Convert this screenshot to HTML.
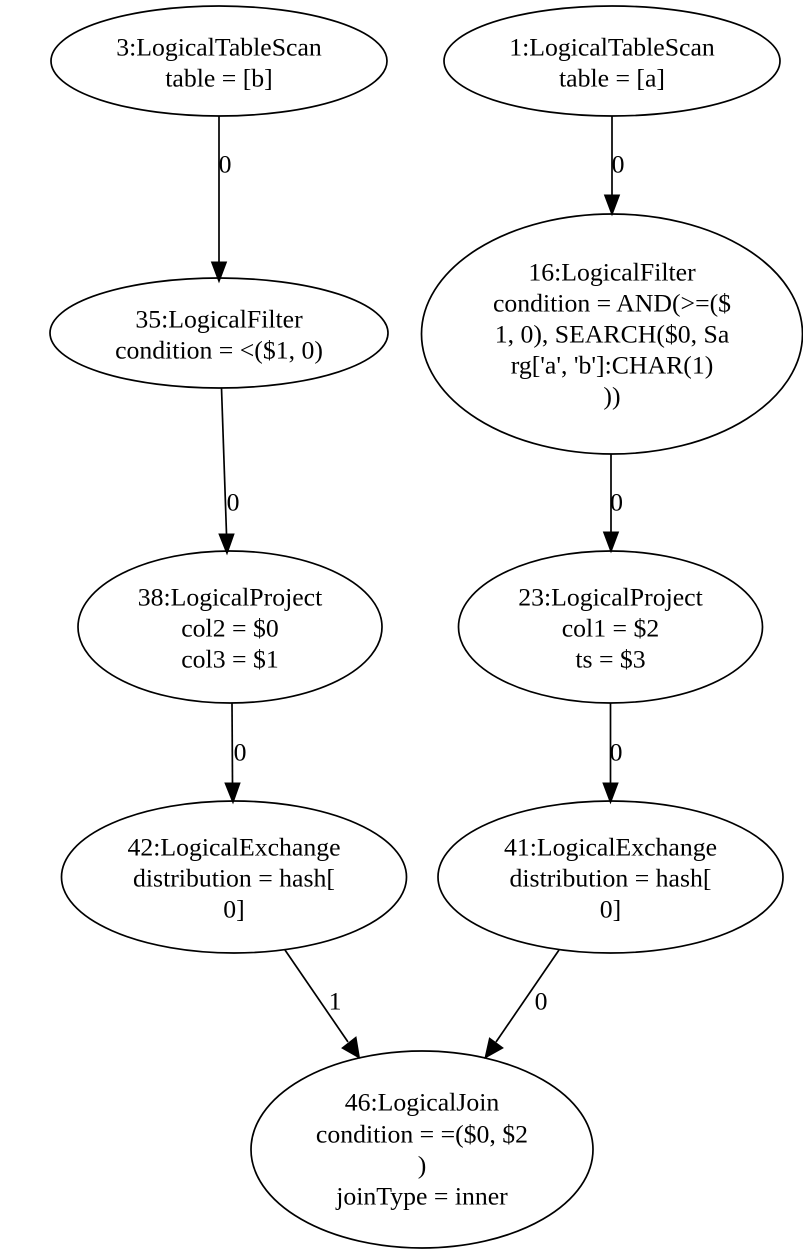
<!DOCTYPE html>
<html>
<head>
<meta charset="utf-8">
<style>
html,body{margin:0;padding:0;background:#fff;}
svg{display:block;}
text{font-family:"Liberation Serif",serif;font-size:25.75px;fill:#000;text-anchor:middle;transform:translateY(0.6px);}
ellipse{fill:none;stroke:#000;stroke-width:1.7;}
line{stroke:#000;stroke-width:1.7;}
polygon{fill:#000;stroke:#000;stroke-width:1;}
</style>
</head>
<body>
<svg width="803" height="1253" viewBox="0 0 803 1253" xmlns="http://www.w3.org/2000/svg">
<ellipse cx="219" cy="61" rx="168" ry="55"/>
<text x="219" y="55">3:LogicalTableScan</text>
<text x="219" y="86">table = [b]</text>

<ellipse cx="612" cy="61" rx="168" ry="55"/>
<text x="612" y="55">1:LogicalTableScan</text>
<text x="612" y="86">table = [a]</text>

<ellipse cx="219" cy="333" rx="169" ry="55"/>
<text x="219" y="327">35:LogicalFilter</text>
<text x="219" y="358">condition = &lt;($1, 0)</text>

<ellipse cx="612" cy="334" rx="190.500" ry="120"/>
<text x="612" y="280">16:LogicalFilter</text>
<text x="612" y="311">condition = AND(&gt;=($</text>
<text x="612" y="342">1, 0), SEARCH($0, Sa</text>
<text x="612" y="373">rg['a', 'b']:CHAR(1)</text>
<text x="612" y="404">))</text>

<ellipse cx="230" cy="627" rx="152" ry="76"/>
<text x="230" y="605">38:LogicalProject</text>
<text x="230" y="636">col2 = $0</text>
<text x="230" y="667">col3 = $1</text>

<ellipse cx="610.500" cy="627" rx="152" ry="76"/>
<text x="610.500" y="605">23:LogicalProject</text>
<text x="610.500" y="636">col1 = $2</text>
<text x="610.500" y="667">ts = $3</text>

<ellipse cx="234" cy="877" rx="172.500" ry="76"/>
<text x="234" y="855">42:LogicalExchange</text>
<text x="234" y="886">distribution = hash[</text>
<text x="234" y="917">0]</text>

<ellipse cx="610.500" cy="877" rx="172.500" ry="76"/>
<text x="610.500" y="855">41:LogicalExchange</text>
<text x="610.500" y="886">distribution = hash[</text>
<text x="610.500" y="917">0]</text>

<ellipse cx="422" cy="1149.500" rx="171" ry="98.500"/>
<text x="422" y="1110">46:LogicalJoin</text>
<text x="422" y="1142">condition = =($0, $2</text>
<text x="422" y="1173">)</text>
<text x="422" y="1204">joinType = inner</text>

<line x1="219" y1="116" x2="219" y2="262"/>
<polygon points="211.500,262 226.500,262 219,282"/>
<text x="225" y="172">0</text>

<line x1="612" y1="116" x2="612" y2="195"/>
<polygon points="604.500,195 619.500,195 612,215"/>
<text x="618" y="172">0</text>

<line x1="221.500" y1="388" x2="226.500" y2="534"/>
<polygon points="219,534 234,534 227,554"/>
<text x="233" y="510">0</text>

<line x1="611" y1="454" x2="611" y2="532"/>
<polygon points="603.500,532 618.500,532 611,552"/>
<text x="616.500" y="510">0</text>

<line x1="232" y1="703" x2="232.500" y2="783"/>
<polygon points="225,783 240,783 233,803"/>
<text x="240" y="760">0</text>

<line x1="610.500" y1="703" x2="610.500" y2="783"/>
<polygon points="603,783 618,783 610.500,803"/>
<text x="616" y="760">0</text>

<line x1="285" y1="950" x2="348" y2="1042"/>
<polygon points="342,1048 356,1037 359.500,1058"/>
<text x="335" y="1009">1</text>

<line x1="559" y1="950" x2="496" y2="1042"/>
<polygon points="489.500,1038 503,1048 485,1058"/>
<text x="541" y="1009">0</text>
</svg>
</body>
</html>
